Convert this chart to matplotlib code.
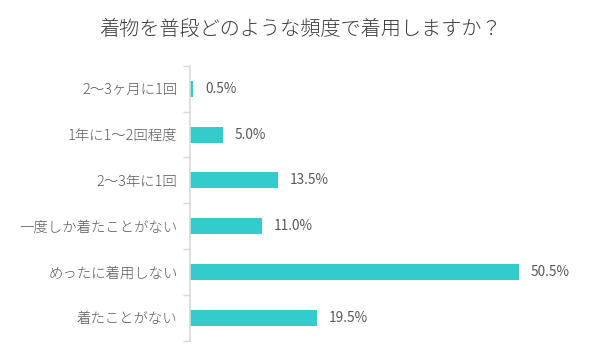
import matplotlib
matplotlib.use('Agg')
import matplotlib.pyplot as plt
import numpy as np

plt.rcParams['font.family'] = ['Noto Sans CJK JP', 'DejaVu Sans']

TITLE = "着物を普段どのような頻度で着用しますか？"
categories = ["2〜3ヶ月に1回", "1年に1〜2回程度", "2〜3年に1回",
              "一度しか着たことがない", "めったに着用しない", "着たことがない"]
values = [0.5, 5.0, 13.5, 11.0, 50.5, 19.5]

BAR_COLOR = "#33CCCC"
TEXT_COLOR = "#595959"
TITLE_COLOR = "#3A3A3A"
AXIS_COLOR = "#D9D9D9"

fig = plt.figure(figsize=(6, 3.6), dpi=100)
ax = fig.add_axes([0.3167, 0.054, 0.651, 0.763])

y = np.arange(len(categories))
ax.barh(y, values, height=0.35, color=BAR_COLOR)
for yi, v in zip(y, values):
    ax.text(v + 1.8, yi, f"{v:.1f}%", va='center', ha='left',
            fontsize=9.8, color=TEXT_COLOR)

ax.set_ylim(len(categories) - 0.5, -0.5)
ax.set_xlim(0, 60)
ax.set_yticks(y)
ax.set_yticklabels(categories, fontsize=10.4, color=TEXT_COLOR,
                   fontweight='light')
ax.tick_params(axis='y', which='major', length=0, pad=9)
ax.set_yticks(np.arange(-0.5, len(categories)), minor=True)
ax.tick_params(axis='y', which='minor', length=5, color=AXIS_COLOR, width=1)
ax.set_xticks([])

for s in ['top', 'right', 'bottom']:
    ax.spines[s].set_visible(False)
ax.spines['left'].set_color(AXIS_COLOR)
ax.spines['left'].set_linewidth(1.2)

fig.text(0.5, 0.918, TITLE, ha='center', va='center', fontsize=14.5,
         color=TITLE_COLOR, fontweight='light')

fig.savefig("out.png", dpi=100)
